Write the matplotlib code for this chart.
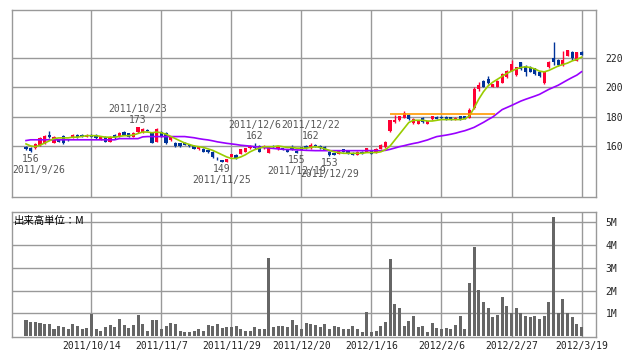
import numpy as np
import matplotlib
matplotlib.use("Agg")
from matplotlib import pyplot as plt

# daily candles, 2011/9/22 .. 2012/3/19 (trading days)
opens = [159.5, 158.5, 158.4, 160.7, 161.4, 167.6, 162.3, 164.6, 166.9, 164.6,
         166.0, 167.6, 167.6, 166.4, 167.6, 167.6, 164.1, 166.4, 163.0, 167.6,
         166.4, 169.2, 168.7, 166.4, 169.2, 169.2, 171.0, 168.7, 163.0, 169.2,
         168.7, 164.1, 162.3, 161.8, 162.3, 161.4, 160.0, 157.7, 158.2, 157.2,
         156.1, 151.0, 150.2, 149.2, 152.6, 153.8, 154.5, 156.1, 158.4, 160.0,
         160.0, 158.4, 155.4, 160.0, 157.7, 158.4, 157.7, 159.5, 156.6, 159.1,
         160.0, 158.4, 160.9, 160.0, 159.5, 156.1, 154.9, 154.5, 157.7, 156.8,
         155.4, 153.8, 156.1, 156.1, 156.8, 156.1, 158.2, 159.1, 169.9, 176.1,
         177.5, 179.1, 181.4, 175.6, 175.2, 179.1, 175.2, 178.4, 179.8, 179.8,
         179.8, 179.8, 177.9, 180.2, 180.2, 179.1, 186.0, 199.1, 204.4, 205.5,
         200.5, 200.5, 203.2, 206.7, 211.3, 208.3, 217.0, 214.7, 214.0, 212.9,
         210.6, 203.2, 213.6, 219.8, 218.9, 215.2, 221.6, 224.4, 218.2, 224.4]
closes = [157.7, 156.3, 161.4, 165.3, 166.9, 166.0, 166.0, 163.0, 161.8, 164.1,
          167.6, 166.0, 166.4, 167.6, 166.4, 165.3, 166.0, 163.0, 166.4, 165.3,
          168.7, 167.8, 166.4, 168.7, 172.7, 171.5, 170.4, 162.3, 171.5, 166.4,
          161.8, 166.0, 160.0, 160.0, 160.7, 160.0, 158.2, 159.1, 156.1, 156.1,
          152.2, 150.8, 149.3, 150.8, 154.5, 151.5, 157.7, 158.4, 160.0, 158.4,
          156.1, 160.0, 159.1, 159.1, 159.5, 157.2, 156.1, 157.2, 155.0, 157.2,
          158.4, 160.7, 159.5, 158.4, 157.2, 153.5, 153.8, 157.2, 156.1, 154.5,
          153.8, 156.1, 154.5, 158.4, 154.5, 157.7, 160.7, 163.0, 177.5, 177.7,
          180.2, 182.5, 178.4, 178.4, 176.8, 176.1, 176.8, 180.2, 178.4, 178.9,
          177.9, 177.9, 179.1, 177.9, 178.4, 184.4, 199.1, 201.4, 200.5, 202.8,
          202.1, 204.4, 209.0, 211.3, 215.9, 213.6, 212.4, 210.6, 210.6, 208.8,
          207.8, 210.6, 217.5, 217.0, 215.2, 218.9, 225.1, 219.8, 223.9, 222.1]
highs = [160.0, 159.0, 162.0, 165.8, 167.5, 170.0, 166.5, 165.0, 167.5, 165.0,
         168.0, 168.0, 168.0, 168.0, 168.0, 168.0, 166.5, 167.0, 167.0, 168.0,
         169.2, 170.0, 169.0, 169.5, 173.0, 172.0, 171.5, 169.5, 172.0, 170.0,
         169.5, 166.5, 162.5, 162.0, 163.0, 161.5, 160.5, 159.5, 158.5, 157.5,
         156.5, 152.5, 150.5, 151.0, 154.8, 154.2, 158.0, 158.8, 160.5, 162.0,
         160.5, 160.5, 159.5, 160.5, 160.0, 158.8, 158.0, 160.5, 157.0, 159.5,
         160.5, 162.0, 161.2, 160.5, 160.0, 156.5, 155.2, 157.5, 158.0, 157.2,
         155.8, 156.5, 156.5, 158.8, 157.2, 158.5, 161.0, 163.5, 178.0, 181.4,
         180.5, 183.5, 182.0, 178.8, 177.2, 179.5, 177.2, 180.5, 180.2, 180.2,
         180.2, 180.0, 179.5, 180.5, 180.5, 186.0, 200.0, 203.5, 205.0, 207.5,
         202.5, 205.0, 209.5, 212.0, 218.5, 214.0, 217.5, 215.0, 214.5, 213.2,
         211.0, 211.0, 218.0, 230.8, 219.3, 224.5, 225.5, 224.8, 224.3, 224.8]
lows = [157.5, 156.0, 158.0, 160.0, 161.0, 165.5, 162.0, 162.5, 161.5, 163.5,
        165.5, 165.5, 166.0, 166.0, 166.0, 165.0, 164.0, 162.5, 162.5, 165.0,
        166.0, 167.5, 166.0, 166.0, 169.0, 169.0, 170.0, 162.0, 162.5, 166.0,
        161.0, 163.5, 159.5, 159.5, 160.5, 159.5, 158.0, 157.5, 156.0, 155.5,
        152.0, 150.5, 149.0, 149.0, 152.4, 151.2, 154.2, 155.9, 158.0, 158.0,
        155.8, 158.0, 155.0, 158.8, 157.5, 157.0, 155.8, 157.0, 155.0, 157.0,
        158.0, 158.0, 159.2, 158.0, 157.0, 153.0, 153.5, 154.2, 155.8, 154.2,
        153.5, 153.5, 154.2, 155.8, 154.2, 155.2, 158.0, 158.8, 169.5, 175.8,
        177.2, 178.8, 178.0, 175.2, 175.0, 175.5, 175.0, 178.0, 178.2, 178.6,
        177.6, 177.6, 177.6, 177.6, 178.2, 178.8, 185.5, 197.5, 200.2, 202.5,
        200.0, 200.2, 203.0, 206.5, 211.0, 207.5, 212.0, 207.8, 210.2, 208.3,
        207.3, 202.5, 213.2, 215.5, 214.8, 214.5, 221.0, 218.5, 217.8, 221.8]

# short and long moving averages as drawn on the chart
ma_short = [161.4, 160.0, 159.5, 160.5, 162.0, 163.5, 165.0, 165.5, 165.5, 165.5,
            166.0, 166.0, 166.5, 167.0, 167.0, 167.0, 166.5, 166.0, 166.0, 166.0,
            166.5, 167.0, 167.0, 167.5, 168.5, 169.5, 169.5, 169.0, 169.5, 169.0,
            168.0, 166.5, 165.0, 163.5, 162.0, 161.0, 160.0, 159.5, 159.0, 158.0,
            157.0, 155.5, 154.0, 152.5, 151.5, 151.5, 152.5, 154.0, 156.0, 157.5,
            158.5, 159.5, 159.5, 159.5, 160.0, 159.5, 159.0, 159.0, 158.5, 158.5,
            158.5, 159.0, 159.5, 159.0, 158.0, 157.0, 156.0, 155.5, 155.0, 155.0,
            155.0, 155.0, 155.0, 155.5, 155.5, 155.5, 156.0, 157.5, 160.0, 164.0,
            168.0, 172.0, 176.0, 177.5, 177.5, 177.5, 177.0, 177.0, 177.5, 178.0,
            178.0, 178.0, 178.0, 178.0, 178.5, 180.5, 186.0, 192.0, 197.0, 201.0,
            203.5, 205.5, 207.5, 209.5, 211.0, 212.5, 213.5, 214.0, 213.5, 212.5,
            211.0, 210.5, 211.5, 213.0, 214.5, 215.5, 216.5, 218.0, 219.0, 220.5]
ma_long = [163.7, 164.2, 164.2, 164.2, 164.2, 164.2, 164.2, 164.2, 164.2, 164.2,
           164.2, 164.2, 164.2, 164.2, 164.2, 164.2, 164.2, 164.2, 164.2, 164.2,
           165.0, 165.0, 165.0, 165.0, 165.0, 166.2, 166.4, 166.4, 166.4, 166.4,
           166.4, 166.4, 166.4, 166.4, 166.4, 166.0, 165.6, 165.0, 164.5, 164.1,
           163.5, 162.8, 162.3, 161.8, 161.4, 161.0, 160.5, 160.2, 159.9, 159.5,
           159.2, 158.9, 158.6, 158.3, 158.0, 157.7, 157.6, 157.5, 157.3, 157.2,
           157.0, 156.9, 156.8, 156.8, 156.8, 156.8, 156.8, 156.8, 156.8, 156.8,
           156.8, 156.8, 156.8, 156.8, 156.8, 156.8, 156.8, 157.0, 157.7, 158.6,
           159.5, 160.2, 161.0, 161.7, 162.3, 163.2, 164.1, 165.3, 166.4, 166.9,
           167.4, 168.0, 168.7, 169.6, 170.4, 171.5, 172.7, 174.4, 176.1, 178.0,
           179.8, 182.3, 184.8, 186.2, 187.6, 189.1, 190.6, 191.8, 192.9, 194.0,
           195.2, 196.9, 198.6, 200.0, 201.4, 203.2, 205.0, 206.7, 208.3, 210.6]

# volume in millions of shares
volume = [0.72, 0.63, 0.63, 0.59, 0.55, 0.55, 0.34, 0.46, 0.42, 0.30,
          0.55, 0.46, 0.34, 0.38, 0.97, 0.34, 0.25, 0.42, 0.51, 0.42,
          0.76, 0.51, 0.38, 0.51, 0.93, 0.55, 0.25, 0.72, 0.72, 0.30,
          0.46, 0.59, 0.55, 0.25, 0.21, 0.21, 0.25, 0.34, 0.25, 0.51,
          0.46, 0.55, 0.38, 0.42, 0.42, 0.46, 0.30, 0.25, 0.25, 0.42,
          0.30, 0.30, 3.42, 0.42, 0.46, 0.46, 0.42, 0.72, 0.51, 0.34,
          0.58, 0.54, 0.49, 0.42, 0.55, 0.32, 0.46, 0.42, 0.30, 0.32,
          0.46, 0.30, 0.21, 1.06, 0.17, 0.25, 0.46, 0.63, 3.37, 1.42,
          1.25, 0.46, 0.68, 0.87, 0.42, 0.46, 0.21, 0.58, 0.38, 0.34,
          0.38, 0.34, 0.49, 0.87, 0.34, 2.32, 3.90, 2.01, 1.48, 1.23,
          0.85, 0.93, 1.73, 1.31, 1.04, 1.23, 1.00, 0.87, 0.85, 0.87,
          0.76, 0.87, 1.52, 5.20, 1.00, 1.65, 1.00, 0.85, 0.55, 0.42]

# resistance line (day index range and price)
resist_from, resist_to, resist_level = 78, 100.5, 182

grid_days = [14, 29, 44, 59, 74, 89, 104, 119]
grid_labels = ["2011/10/14", "2011/11/7", "2011/11/29", "2011/12/20",
               "2012/1/16", "2012/2/6", "2012/2/27", "2012/3/19"]
price_ticks = [160, 180, 200, 220]
vol_ticks = [1, 2, 3, 4, 5]
vol_labels = ["1M", "2M", "3M", "4M", "5M"]

# (day, price, value text, date text, above?)
marks = [(1, 156, "156", "2011/9/26", False),
         (24, 173, "173", "2011/10/23", True),
         (42, 149, "149", "2011/11/25", False),
         (49, 162, "162", "2011/12/6", True),
         (61, 162, "162", "2011/12/22", True),
         (58, 155, "155", "2011/12/19", False),
         (65, 153, "153", "2011/12/29", False)]

UP = "#ff0033"
DOWN = "#003399"
GRID = "#999999"
TXT = "#555555"
mono = "DejaVu Sans Mono"

days = np.arange(len(closes))
o = np.array(opens)
c = np.array(closes)
up = c >= o
colors = np.where(up, UP, DOWN)

fig = plt.figure(figsize=(6.38, 3.62), dpi=100)
ax = fig.add_axes([12 / 638, 1 - 197 / 362, 584 / 638, 187 / 362])
axv = fig.add_axes([12 / 638, 1 - 337 / 362, 584 / 638, 125 / 362])

for a in (ax, axv):
    a.set_xlim(-3, 122.1)
    a.set_xticks(grid_days)
    a.grid(True, color=GRID, lw=1)
    a.set_axisbelow(True)
    for s in a.spines.values():
        s.set_color(GRID)
        s.set_linewidth(1)
    a.yaxis.tick_right()
    a.tick_params(length=0, labelsize=7, colors="#222222")

# price panel
ax.set_ylim(125.2, 252.7)
ax.set_yticks(price_ticks)
ax.set_xticklabels([])
ax.tick_params(axis="y", pad=7)
for t in ax.get_yticklabels():
    t.set_fontfamily(mono)

ax.vlines(days, lows, highs, colors=colors, lw=1, zorder=3)
body = np.maximum(np.abs(c - o), 0.5)
ax.bar(days, body, bottom=np.minimum(o, c), width=0.7, color=colors, zorder=4)
ax.plot(days, ma_long, color="#9900ff", lw=1.2, zorder=5)
ax.plot(days, ma_short, color="#99cc00", lw=1.2, zorder=5)
ax.hlines(resist_level, resist_from, resist_to, color="#ff9900", lw=1.2, zorder=5)

for d, p, val, date, above in marks:
    sign = 1 if above else -1
    va = "bottom" if above else "top"
    ax.annotate(val, (d, p), xytext=(0, 1.5 * sign), textcoords="offset points",
                ha="center", va=va, fontsize=7, family=mono, color=TXT)
    # the first date label is kept inside the left edge of the plot
    date_ha = "center"
    date_pos = (d, p)
    if d == 1:
        date_ha = "left"
        date_pos = (ax.get_xlim()[0], p)
    ax.annotate(date, date_pos, xytext=(0, 9.5 * sign), textcoords="offset points",
                ha=date_ha, va=va, fontsize=7, family=mono, color=TXT)

# volume panel
axv.bar(days, volume, width=0.65, color="#666666", zorder=3)
axv.set_ylim(-0.03, 5.43)
axv.set_yticks(vol_ticks)
axv.set_yticklabels(vol_labels, fontfamily=mono)
axv.tick_params(axis="y", pad=7)
axv.set_xticklabels(grid_labels, fontfamily=mono)
axv.tick_params(axis="x", pad=3)
axv.text(0.003, 0.93, "出来高単位：M", transform=axv.transAxes, ha="left", va="center",
         fontsize=7.5, family=["Noto Sans CJK JP", "DejaVu Sans"], color="#000000")

fig.savefig("out.png", dpi=100)
